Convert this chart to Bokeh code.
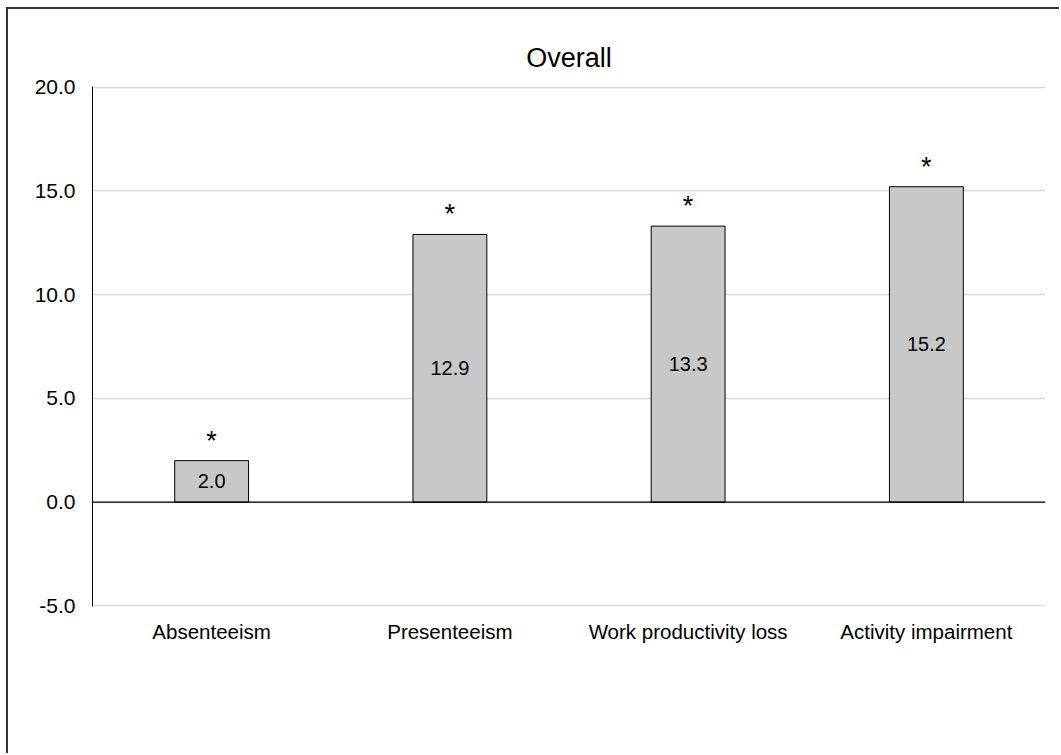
from bokeh.plotting import figure
from bokeh.models import ColumnDataSource, FactorRange, Range1d, Span, NumeralTickFormatter, FixedTicker
from bokeh.embed import file_html
from bokeh.resources import INLINE
from bokeh.core.properties import value

categories = ["Absenteeism", "Presenteeism", "Work productivity loss", "Activity impairment"]
values = [2.0, 12.9, 13.3, 15.2]
labels = ["2.0", "12.9", "13.3", "15.2"]
stars = ["*", "*", "*", "*"]
y_ticks = [-5, 0, 5, 10, 15, 20]

FONT = "Liberation Sans"

src = ColumnDataSource(dict(
    cat=categories,
    val=values,
    mid=[v / 2 for v in values],
    lab=labels,
    star=stars,
))

p = figure(
    x_range=FactorRange(*categories, range_padding=0),
    y_range=Range1d(-5.03, 20.03),
    width=1053, height=746,
    output_backend="svg", toolbar_location=None,
    min_border_left=84, min_border_right=16, min_border_top=77, min_border_bottom=149,
    title="Overall",
)
p.styles = {"margin-left": "6px", "margin-top": "7px",
            "border-left": "2px solid #333333", "border-top": "2px solid #333333"}
p.outline_line_color = None
p.background_fill_color = "white"
p.border_fill_color = "white"

p.title.align = "center"
p.title.text_font = FONT
p.title.text_font_size = "27px"
p.title.text_font_style = "normal"
p.title.text_color = "#000000"
p.title.standoff = 28

p.vbar(x="cat", top="val", bottom=0, width=0.31, source=src,
       fill_color="#c8c8c8", line_color="#000000", line_width=1)

p.add_layout(Span(location=0, dimension="width", line_color="#000000", line_width=1.2))

p.text(x="cat", y="mid", text="lab", source=src, text_align="center", text_baseline="middle",
       text_font=value(FONT), text_font_size="20px", text_color="#000000")
p.text(x="cat", y="val", text="star", source=src, text_align="center", text_baseline="middle",
       y_offset=-20, text_font=value(FONT), text_font_size="27px", text_color="#000000")

p.yaxis.ticker = FixedTicker(ticks=y_ticks)
p.yaxis.formatter = NumeralTickFormatter(format="0.0")
p.yaxis.major_tick_line_color = None
p.yaxis.minor_tick_line_color = None
p.yaxis.axis_line_color = "#000000"
p.yaxis.axis_line_width = 1
p.yaxis.major_label_text_font = FONT
p.yaxis.major_label_text_font_size = "21px"
p.yaxis.major_label_text_color = "#000000"
p.yaxis.major_label_standoff = 11

p.xaxis.axis_line_color = None
p.xaxis.major_tick_line_color = None
p.xaxis.minor_tick_line_color = None
p.xaxis.major_label_text_font = FONT
p.xaxis.major_label_text_font_size = "20.5px"
p.xaxis.major_label_text_color = "#000000"
p.xaxis.major_label_standoff = 7

p.xgrid.grid_line_color = None
p.ygrid.grid_line_color = "#d9d9d9"
p.ygrid.grid_line_width = 1.5
p.ygrid.ticker = FixedTicker(ticks=y_ticks)

open("out.html", "w").write(file_html(p, INLINE))
